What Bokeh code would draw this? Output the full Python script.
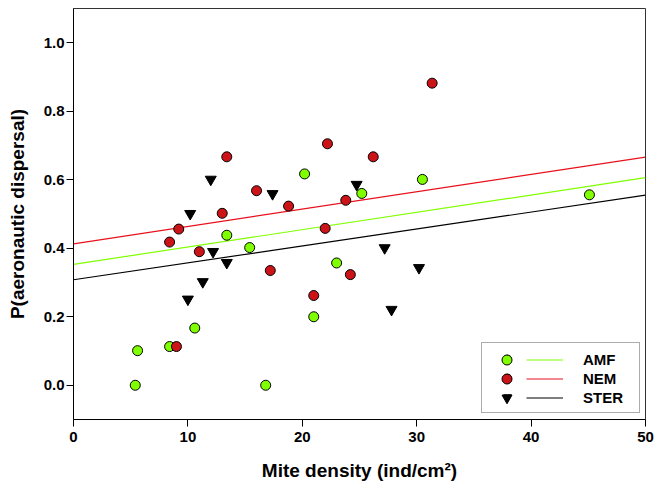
from bokeh.plotting import figure
from bokeh.models import Range1d, FixedTicker, NumeralTickFormatter, Legend, LegendItem
from bokeh.embed import file_html
from bokeh.resources import INLINE

# ---- data ----
amf_x = [5.4, 5.6, 8.4, 10.6, 13.4, 15.4, 16.8, 20.2, 21.0, 23.0, 25.2, 30.5, 45.1]
amf_y = [0.0, 0.101, 0.113, 0.167, 0.438, 0.402, 0.0, 0.617, 0.200, 0.357, 0.560, 0.601, 0.556]

nem_x = [8.4, 9.0, 9.2, 11.0, 13.0, 13.4, 16.0, 17.2, 18.8, 21.0, 22.0, 22.2, 23.8, 24.2, 26.2, 31.35]
nem_y = [0.418, 0.113, 0.456, 0.390, 0.502, 0.667, 0.568, 0.335, 0.523, 0.262, 0.458, 0.705, 0.540, 0.323, 0.667, 0.882]

ster_x = [10.0, 10.2, 11.3, 12.0, 12.2, 13.4, 17.4, 24.75, 27.2, 27.8, 30.2]
ster_y = [0.251, 0.501, 0.302, 0.601, 0.390, 0.358, 0.559, 0.586, 0.401, 0.221, 0.343]

fit_x = [0, 50]
amf_fit = [0.353, 0.606]
nem_fit = [0.413, 0.666]
ster_fit = [0.308, 0.555]

x_ticks = [0, 10, 20, 30, 40, 50]
y_ticks = [0.0, 0.2, 0.4, 0.6, 0.8, 1.0]

series_labels = ["AMF", "NEM", "STER"]

GREEN = "#80FF00"
RED = "#CC1418"
FONT = "Liberation Sans"

p = figure(width=654, height=485, output_backend="svg", toolbar_location=None,
           x_range=Range1d(0, 50), y_range=Range1d(-0.1, 1.1),
           min_border_left=73, min_border_right=9, min_border_top=8, min_border_bottom=66)

p.xgrid.visible = False
p.ygrid.visible = False
p.outline_line_color = "#333333"
p.outline_line_width = 1
p.background_fill_color = "white"
p.border_fill_color = "white"

for ax in (p.xaxis[0], p.yaxis[0]):
    ax.major_tick_out = 7
    ax.major_tick_in = 0
    ax.minor_tick_out = 0
    ax.minor_tick_in = 0
    ax.axis_line_color = "black"
    ax.major_tick_line_color = "black"
    ax.major_label_text_font = FONT
    ax.major_label_text_font_style = "bold"
    ax.major_label_text_font_size = "15px"
    ax.major_label_text_color = "black"
    ax.axis_label_text_font = FONT
    ax.axis_label_text_font_style = "bold"
    ax.axis_label_text_font_size = "19px"
    ax.axis_label_text_color = "black"

p.xaxis.ticker = FixedTicker(ticks=x_ticks)
p.yaxis.ticker = FixedTicker(ticks=y_ticks)
p.xaxis.formatter = NumeralTickFormatter(format="0")
p.yaxis.formatter = NumeralTickFormatter(format="0.0")
p.xaxis.axis_label = "Mite density (ind/cm²)"
p.yaxis.axis_label = "P(aeronautic dispersal)"
p.xaxis.major_label_standoff = 5
p.yaxis.major_label_standoff = 2
p.xaxis.axis_label_standoff = 15
p.yaxis.axis_label_standoff = 13

# regression lines
amf_l = p.line(fit_x, amf_fit, line_color=GREEN, line_width=1.2)
nem_l = p.line(fit_x, nem_fit, line_color="#E8101C", line_width=1.2)
ster_l = p.line(fit_x, ster_fit, line_color="black", line_width=1.2)

# points
amf_r = p.scatter(amf_x, amf_y, marker="circle", size=10, fill_color=GREEN,
                  line_color="black", line_width=1)
nem_r = p.scatter(nem_x, nem_y, marker="circle", size=10, fill_color=RED,
                  line_color="black", line_width=1)
ster_r = p.scatter(ster_x, ster_y, marker="inverted_triangle", size=11, fill_color="black",
                   line_color="black", line_width=1)
marker_rs = (amf_r, nem_r, ster_r)
line_rs = (amf_l, nem_l, ster_l)

# legend box (white background + border), rows of 19 px
leg_box = Legend(
    items=[LegendItem(label=" ", renderers=[r]) for r in marker_rs],
    location=(408, 6), orientation="vertical", padding=6, margin=0, spacing=0,
    glyph_width=38, glyph_height=19, label_width=107, label_height=19, label_standoff=0,
    border_line_color="#5a5a5a", border_line_width=1.5,
    background_fill_color="white", background_fill_alpha=1.0,
    label_text_font=FONT, label_text_font_size="15px")
p.add_layout(leg_box)

# lines + labels
leg_lines = Legend(
    items=[LegendItem(label=lab, renderers=[r]) for lab, r in zip(series_labels, line_rs)],
    location=(453, 12), orientation="vertical", padding=0, margin=0, spacing=0,
    glyph_width=37, glyph_height=19, label_height=19, label_standoff=20,
    border_line_alpha=0, background_fill_alpha=0,
    label_text_font=FONT, label_text_font_style="bold", label_text_font_size="15px",
    label_text_color="black")
p.add_layout(leg_lines)

# full-size legend markers, one small legend per row
row_bottoms = [47, 28, 9]
for r, yb in zip(marker_rs, row_bottoms):
    lg = Legend(items=[LegendItem(label=" ", renderers=[r])],
                location=(420.5, yb), padding=0, margin=0, spacing=0,
                glyph_width=25, glyph_height=25, label_height=25, label_standoff=0,
                border_line_alpha=0, background_fill_alpha=0,
                label_text_font=FONT, label_text_font_size="15px")
    p.add_layout(lg)

open("out.html", "w").write(file_html(p, INLINE))
